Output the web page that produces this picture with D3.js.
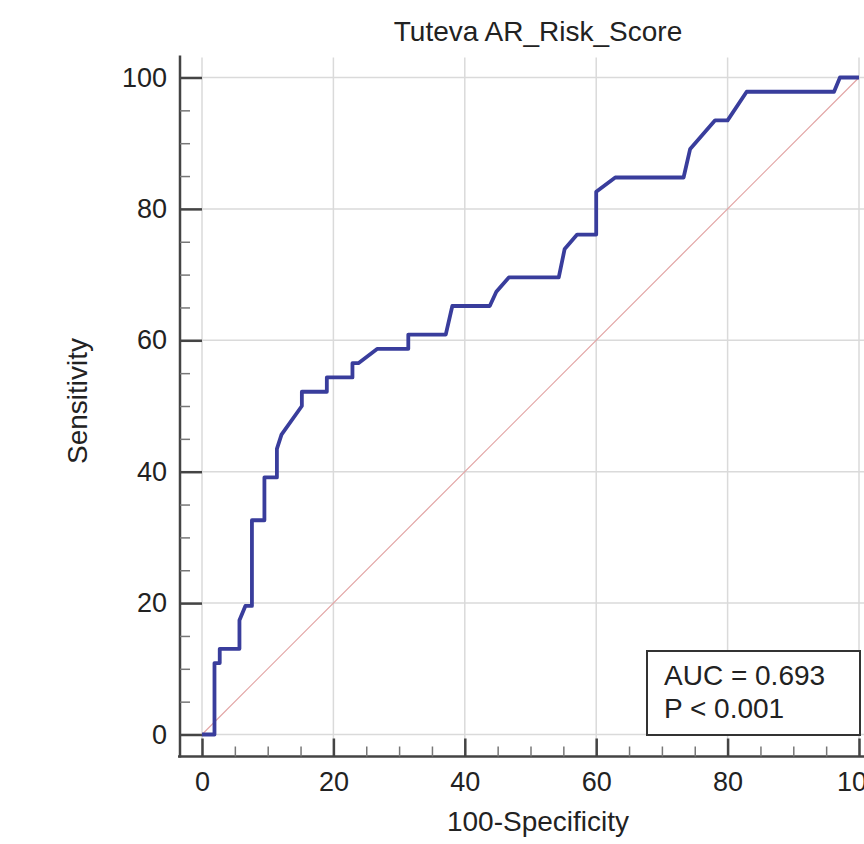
<!DOCTYPE html>
<html>
<head>
<meta charset="utf-8">
<script src="https://cdn.jsdelivr.net/npm/d3@7"></script>
<style>
  body { margin: 0; background: #fff; }
  svg text { font-family: "Liberation Sans", Arial, sans-serif; fill: #222; }
</style>
</head>
<body>
<div id="chart"></div>
<script>
// ROC curve vertices (100-Specificity, Sensitivity)
const fpr = [0, 1.9, 1.9, 2.7, 2.7, 5.7, 5.7, 6.6, 7.6, 7.6, 9.5, 9.5, 11.4, 11.4, 12.1, 15.2, 15.2,
             19.0, 19.0, 22.9, 22.9, 23.8, 26.7, 31.4, 31.4, 37.1, 38.1, 43.8, 44.8, 46.7, 54.3,
             55.2, 57.1, 60.0, 60.0, 62.9, 73.3, 74.3, 78.1, 80.0, 82.9, 96.2, 97.1, 100];
const tpr = [0, 0, 10.87, 10.87, 13.04, 13.04, 17.39, 19.57, 19.57, 32.61, 32.61, 39.13, 39.13, 43.48, 45.65, 50.0, 52.17,
             52.17, 54.35, 54.35, 56.52, 56.52, 58.70, 58.70, 60.87, 60.87, 65.22, 65.22, 67.39, 69.57, 69.57,
             73.91, 76.09, 76.09, 82.61, 84.78, 84.78, 89.13, 93.48, 93.48, 97.83, 97.83, 100, 100];
const majorTicks = [0, 20, 40, 60, 80, 100];
const minorTicks = [5, 10, 15, 25, 30, 35, 45, 50, 55, 65, 70, 75, 85, 90, 95];
const titleText = "Tuteva AR_Risk_Score";
const xLabel = "100-Specificity";
const yLabel = "Sensitivity";
const legendLines = ["AUC = 0.693", "P < 0.001"];

const width = 864, height = 844;
const gap = 22; // axes sit this far outside the 0..100 area

const x = d3.scaleLinear().domain([0, 100]).range([202, 859]);
const y = d3.scaleLinear().domain([0, 100]).range([734.5, 77.5]);

const axisX = x(0) - gap;   // y axis line position
const axisY = y(0) + gap;   // x axis line position

const svg = d3.select("#chart").append("svg")
    .attr("width", width)
    .attr("height", height);

// grid
svg.append("g").selectAll("line.vg")
    .data(majorTicks)
    .join("line")
    .attr("x1", d => x(d)).attr("x2", d => x(d))
    .attr("y1", y(100) - gap + 2).attr("y2", axisY)
    .attr("stroke", "#dadada").attr("stroke-width", 1.5);

svg.append("g").selectAll("line.hg")
    .data(majorTicks)
    .join("line")
    .attr("x1", axisX).attr("x2", x(100) + gap)
    .attr("y1", d => y(d)).attr("y2", d => y(d))
    .attr("stroke", "#dadada").attr("stroke-width", 1.5);

// axis lines
svg.append("line")
    .attr("x1", axisX).attr("x2", axisX)
    .attr("y1", y(100) - gap).attr("y2", axisY + 1)
    .attr("stroke", "#444").attr("stroke-width", 2.5);
svg.append("line")
    .attr("x1", axisX - 2).attr("x2", x(100) + gap)
    .attr("y1", axisY).attr("y2", axisY)
    .attr("stroke", "#444").attr("stroke-width", 2.5);

// y axis ticks
const yAxis = svg.append("g")
    .attr("transform", `translate(${axisX},0)`)
    .call(d3.axisLeft(y).tickValues(majorTicks).tickSizeInner(-gap).tickSizeOuter(0).tickPadding(13));
yAxis.select(".domain").remove();
yAxis.selectAll(".tick line").attr("stroke", "#444").attr("stroke-width", 2.5);
yAxis.selectAll(".tick text").attr("font-size", 27).attr("font-family", null).attr("fill", "#222");

const yMinor = svg.append("g")
    .attr("transform", `translate(${axisX},0)`)
    .call(d3.axisLeft(y).tickValues(minorTicks).tickSizeInner(-10).tickSizeOuter(0).tickFormat(""));
yMinor.select(".domain").remove();
yMinor.selectAll(".tick line").attr("stroke", "#777").attr("stroke-width", 1.5);

// x axis ticks
const xAxis = svg.append("g")
    .attr("transform", `translate(0,${axisY})`)
    .call(d3.axisBottom(x).tickValues(majorTicks).tickSizeInner(-18).tickSizeOuter(0).tickPadding(15));
xAxis.select(".domain").remove();
xAxis.selectAll(".tick line").attr("stroke", "#444").attr("stroke-width", 2.5);
xAxis.selectAll(".tick text").attr("font-size", 27).attr("font-family", null).attr("fill", "#222");

const xMinor = svg.append("g")
    .attr("transform", `translate(0,${axisY})`)
    .call(d3.axisBottom(x).tickValues(minorTicks).tickSizeInner(-10).tickSizeOuter(0).tickFormat(""));
xMinor.select(".domain").remove();
xMinor.selectAll(".tick line").attr("stroke", "#777").attr("stroke-width", 1.5);

// reference diagonal
svg.append("line")
    .attr("x1", x(0)).attr("y1", y(0))
    .attr("x2", x(100)).attr("y2", y(100))
    .attr("stroke", "#e2a4a4").attr("stroke-width", 1.2);

// ROC curve
const pts = fpr.map((d, i) => [d, tpr[i]]);
svg.append("path")
    .datum(pts)
    .attr("fill", "none")
    .attr("stroke", "#393d9c")
    .attr("stroke-width", 3.8)
    .attr("stroke-linejoin", "round")
    .attr("d", d3.line()
        .x(function (d) { return x(d[0]) })
        .y(function (d) { return y(d[1]) })
    );

// legend box
svg.append("rect")
    .attr("x", 647).attr("y", 651)
    .attr("width", 213).attr("height", 84)
    .attr("fill", "#fff").attr("stroke", "#333").attr("stroke-width", 2);
svg.append("g").selectAll("text")
    .data(legendLines)
    .join("text")
    .attr("x", 664)
    .attr("y", (d, i) => 685 + i * 33)
    .attr("font-size", 28)
    .text(d => d);

// titles
svg.append("text")
    .attr("x", 538).attr("y", 41)
    .attr("text-anchor", "middle")
    .attr("font-size", 28)
    .text(titleText);

svg.append("text")
    .attr("x", 538).attr("y", 831)
    .attr("text-anchor", "middle")
    .attr("font-size", 28)
    .text(xLabel);

svg.append("text")
    .attr("transform", "translate(87,401) rotate(-90)")
    .attr("text-anchor", "middle")
    .attr("font-size", 28)
    .text(yLabel);
</script>
</body>
</html>
